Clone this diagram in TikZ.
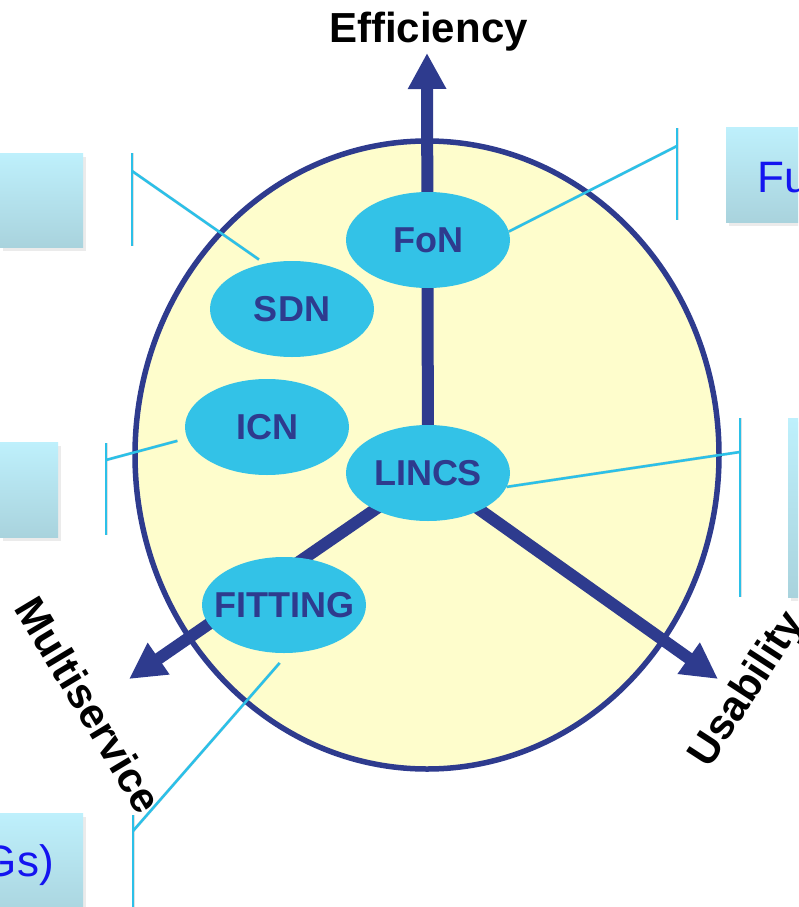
\documentclass[tikz,border=0pt]{standalone}
\usepackage{fontspec}
\setmainfont{Liberation Sans}
\usetikzlibrary{arrows.meta,shapes.geometric}
\definecolor{navy}{HTML}{2E3B8E}
\definecolor{bubble}{HTML}{33C2E7}
\definecolor{sunny}{HTML}{FEFDCC}
\definecolor{wire}{HTML}{2BC0E8}
\definecolor{boxtop}{HTML}{BEF0FC}
\definecolor{boxbot}{HTML}{A9D3DD}
\definecolor{inkblue}{RGB}{20,20,240}
\begin{document}
\begin{tikzpicture}[x=1pt,y=-1pt,
  axis/.style={navy, line width=12pt, -{Triangle[length=36pt,width=36pt]}},
  bub/.style={ellipse, fill=bubble, minimum width=164pt, minimum height=96pt, inner sep=0pt,
    text=navy, font=\fontsize{36pt}{40pt}\selectfont\bfseries},
  axislabel/.style={font=\fontsize{42pt}{46pt}\selectfont\bfseries, text=black, inner sep=0pt},
  wireline/.style={wire, line width=2.5pt},
  wireshadow/.style={black, opacity=0.12, line width=3pt},
  panel/.style={top color=boxtop, bottom color=boxbot, draw=none},
  paneltext/.style={font=\fontsize{44pt}{48pt}\selectfont, text=inkblue, inner sep=0pt}]
\clip (0,0) rectangle (798,907);
\fill[white] (0,0) rectangle (798,907);

% panels
\foreach \a/\b/\c/\d in {0/153/83/247, 726/127/810/222, 0/442/58/537, 788/418/810/597, 0/813/83/920}{
  \fill[black, opacity=0.08] (\a+3,\b+4) rectangle (\c+3,\d+4);
  \shade[panel] (\a,\b) rectangle (\c,\d);
}
\node[paneltext, anchor=base west] (fu) at (757,192) {Fu};
\node[paneltext, anchor=base east] (gs) at (54,876) {Gs)};

% big circle
\draw[navy, line width=5.5pt, fill=sunny] (427,455) ellipse [x radius=292, y radius=314];

% axes
\coordinate (hub) at (428,473);
\coordinate (tipE) at (427,53);
\coordinate (tipM) at (129,679);
\coordinate (tipU) at (718,679);
\draw[axis] (hub) -- (tipE);
\draw[axis] (hub) -- (tipM);
\draw[axis] (hub) -- (tipU);

% bubbles
\node[bub] (fon) at (428,240) {FoN};
\node[bub] (sdn) at (292,309) {SDN};
\node[bub] (icn) at (267,427) {ICN};
\node[bub] (lincs) at (428,473) {LINCS};
\node[bub, inner xsep=-14pt] (fitting) at (284,605) {FITTING};

% brackets and leader lines
\coordinate (b1t) at (132,153); \coordinate (b1b) at (132,246); \coordinate (b1) at (132,171);
\coordinate (b2t) at (677,128); \coordinate (b2b) at (677,220); \coordinate (b2) at (677,146);
\coordinate (b3t) at (106,443); \coordinate (b3b) at (106,535); \coordinate (b3) at (106,460);
\coordinate (b4t) at (740,418); \coordinate (b4b) at (740,597); \coordinate (b4) at (740,452);
\coordinate (b5t) at (133,815); \coordinate (b5b) at (133,910); \coordinate (b5) at (133,831);

\begin{scope}[shift={(2,3)}]
\draw[wireshadow] (b1t) -- (b1b) (b2t) -- (b2b) (b3t) -- (b3b) (b4t) -- (b4b) (b5t) -- (b5b);
\draw[wireshadow, shorten >=7pt] (b1) -- (sdn.121);
\draw[wireshadow] (b2) -- (fon.6);
\draw[wireshadow, shorten >=10pt] (b3) -- (icn.188);
\draw[wireshadow] (b4) -- (lincs.-10);
\draw[wireshadow, shorten >=13pt] (b5) -- (fitting.-85);
\end{scope}
\draw[wireline] (b1t) -- (b1b) (b2t) -- (b2b) (b3t) -- (b3b) (b4t) -- (b4b) (b5t) -- (b5b);
\draw[wireline, shorten >=7pt] (b1) -- (sdn.121);
\draw[wireline] (b2) -- (fon.6);
\draw[wireline, shorten >=10pt] (b3) -- (icn.188);
\draw[wireline] (b4) -- (lincs.-10);
\draw[wireline, shorten >=13pt] (b5) -- (fitting.-85);

% axis labels
\node[axislabel, anchor=base] (eff) at (428.5,43) {Efficiency};
\node[axislabel, rotate=-59] (multi) at (89,705) {Multiservice};
\node[axislabel, rotate=57] (usab) at (748,690) {Usability};
\end{tikzpicture}
\end{document}
